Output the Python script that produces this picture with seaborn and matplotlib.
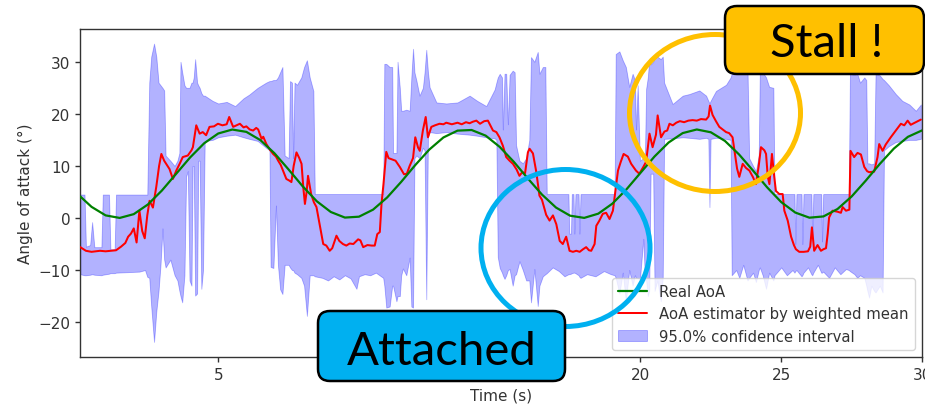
import matplotlib
matplotlib.use("Agg")
import matplotlib.pyplot as plt
import seaborn as sns
from matplotlib.patches import Ellipse, FancyBboxPatch

# ---------------- data ----------------
real_t = [0.1, 0.5, 1.0, 1.5, 2.0, 2.5, 3.0, 3.5, 4.0, 4.5, 5.0, 5.5, 6.0, 6.5, 7.0, 7.5,
          8.0, 8.5, 9.0, 9.5, 10.0, 10.5, 11.0, 11.5, 12.0, 12.5, 13.0, 13.5, 14.0, 14.5,
          15.0, 15.5, 16.0, 16.5, 17.0, 17.5, 18.0, 18.5, 19.0, 19.5, 20.0, 20.5, 21.0,
          21.5, 22.0, 22.5, 23.0, 23.5, 24.0, 24.5, 25.0, 25.5, 26.0, 26.5, 27.0, 27.5,
          28.0, 28.5, 29.0, 29.5, 30.0]
real_aoa = [4.13, 2.14, 0.50, 0.01, 0.74, 2.59, 5.28, 8.45, 11.62, 14.35, 16.23, 16.99,
            16.54, 14.95, 12.42, 9.31, 6.09, 3.22, 1.15, 0.08, 0.25, 1.60, 3.94, 6.94,
            10.17, 13.15, 15.47, 16.78, 16.90, 15.82, 13.65, 10.79, 7.58, 4.50, 2.00, 0.44,
            0.02, 0.83, 2.75, 5.49, 8.67, 11.82, 14.50, 16.31, 17.00, 16.46, 14.80, 12.21,
            9.09, 5.88, 3.05, 1.04, 0.06, 0.30, 1.73, 4.13, 7.16, 10.38, 13.33, 15.59, 16.82]

est_t = [0.10, 0.3, 0.5, 0.8, 1.0, 1.2, 1.37, 1.55, 1.7, 1.8, 1.9, 2.0, 2.1, 2.2, 2.3, 2.39,
         2.48, 2.56, 2.68, 2.8, 2.9, 2.98, 3.08, 3.15, 3.27, 3.39, 3.51, 3.63, 3.74, 3.92,
         4.05, 4.1, 4.22, 4.34, 4.45, 4.57, 4.69, 4.85, 4.99, 5.15, 5.3, 5.39, 5.53, 5.65,
         5.77, 5.9, 6.0, 6.12, 6.24, 6.35, 6.42, 6.54, 6.6, 6.71, 6.85, 6.95, 7.05, 7.13,
         7.22, 7.3, 7.42, 7.52, 7.6, 7.68, 7.78, 7.88, 7.96, 8.02, 8.08, 8.14, 8.19, 8.3,
         8.4, 8.49, 8.6, 8.73, 8.84, 8.96, 9.05, 9.2, 9.3, 9.43, 9.55, 9.67, 9.8, 9.97,
         10.05, 10.15, 10.3, 10.45, 10.56, 10.65, 10.74, 10.8, 10.87, 10.97, 11.05, 11.15,
         11.3, 11.45, 11.6, 11.7, 11.8, 11.92, 12.0, 12.1, 12.16, 12.27, 12.37, 12.45,
         12.57, 12.7, 12.86, 13.0, 13.1, 13.3, 13.5, 13.65, 13.8, 13.93, 14.05, 14.17,
         14.3, 14.45, 14.58, 14.76, 14.88, 14.99, 15.11, 15.23, 15.35, 15.47, 15.6, 15.7,
         15.8, 15.9, 16.0, 16.06, 16.18, 16.3, 16.41, 16.5, 16.65, 16.77, 16.89, 17.01,
         17.13, 17.24, 17.36, 17.48, 17.6, 17.72, 17.84, 17.96, 18.07, 18.17, 18.25, 18.37,
         18.43, 18.54, 18.66, 18.78, 18.9, 19.02, 19.08, 19.2, 19.3, 19.4, 19.55, 19.67,
         19.84, 19.96, 20.1, 20.2, 20.32, 20.43, 20.55, 20.61, 20.73, 20.85, 20.95, 21.03,
         21.15, 21.27, 21.4, 21.55, 21.7, 21.85, 22.0, 22.15, 22.33, 22.42, 22.47, 22.56,
         22.68, 22.8, 22.92, 23.04, 23.15, 23.27, 23.35, 23.43, 23.51, 23.63, 23.75, 23.87,
         24.0, 24.1, 24.2, 24.28, 24.4, 24.46, 24.52, 24.58, 24.67, 24.75, 24.81, 24.93,
         25.05, 25.11, 25.23, 25.35, 25.45, 25.52, 25.64, 25.8, 25.95, 26.03, 26.09, 26.17,
         26.29, 26.41, 26.5, 26.59, 26.65, 26.7, 26.82, 27.0, 27.12, 27.18, 27.3, 27.42,
         27.46, 27.59, 27.71, 27.83, 27.95, 28.05, 28.12, 28.3, 28.42, 28.48, 28.6, 28.71,
         28.89, 29.07, 29.25, 29.37, 29.49, 29.6, 29.78, 29.96]
est_aoa = [-5.6, -6.3, -6.5, -6.3, -6.4, -6.3, -6.2, -5.5, -4.8, -3.6, -3.0, -2.0, -4.7, 1.4,
           -2.5, -3.9, 0.5, 3.3, 2.0, 6.0, 10.0, 12.3, 11.0, 10.4, 9.4, 7.5, 9.1, 10.4, 11.7,
           12.0, 13.0, 13.6, 17.8, 16.2, 16.5, 15.9, 17.5, 17.6, 18.1, 17.8, 18.0, 19.4, 17.5,
           17.8, 18.1, 17.4, 17.6, 17.0, 16.8, 17.3, 17.0, 15.2, 15.6, 14.2, 13.0, 12.3, 11.8,
           11.0, 10.2, 9.1, 7.5, 7.2, 6.9, 10.0, 12.6, 11.5, 10.4, 6.0, 2.7, 5.0, 8.1, 4.6,
           3.0, 2.1, -1.2, -5.0, -5.3, -6.3, -5.8, -3.4, -4.4, -5.0, -5.3, -4.9, -5.0, -4.1,
           -4.3, -5.6, -5.2, -5.3, -5.3, -3.1, -2.7, 2.7, 6.5, 12.7, 11.5, 11.3, 11.0, 9.8,
           8.4, 8.5, 10.0, 11.5, 15.5, 13.5, 12.9, 16.8, 19.4, 15.5, 17.5, 17.8, 18.1, 18.0,
           18.3, 18.0, 18.3, 18.0, 18.4, 18.2, 18.5, 18.7, 18.1, 18.6, 18.7, 16.8, 16.5, 15.5,
           13.9, 11.7, 11.0, 10.4, 9.3, 8.1, 8.8, 8.6, 12.6, 13.3, 12.4, 8.8, 4.3, 3.5, 0.6,
           -0.5, 0.5, -1.2, -4.4, -5.0, -3.6, -6.3, -6.5, -6.3, -6.5, -6.0, -5.6, -6.2, -6.3,
           -5.0, -1.5, -0.5, 0.8, 1.0, -0.2, 1.4, 4.0, 9.1, 10.8, 12.3, 11.8, 10.4, 9.1, 8.5,
           9.8, 10.8, 16.2, 13.6, 16.0, 19.7, 15.5, 16.6, 16.8, 18.1, 17.8, 18.3, 18.6, 18.4,
           18.7, 18.8, 18.7, 19.0, 18.9, 19.5, 21.6, 19.8, 18.6, 17.5, 17.0, 16.5, 16.3, 15.5,
           12.5, 9.5, 7.9, 10.4, 9.6, 9.1, 7.8, 6.5, 10.0, 13.6, 13.0, 12.3, 8.0, 6.5, 12.3,
           8.0, 5.2, 4.6, 4.6, 1.4, -0.5, -3.6, -5.2, -6.0, -6.5, -6.5, -6.4, -5.5, -1.8, -6.3,
           -5.2, -6.3, -6.0, -5.8, -3.0, 0.1, 1.4, 1.2, 1.0, 2.1, 1.4, 1.6, 12.9, 11.7, 12.5,
           12.2, 9.8, 9.0, 8.8, 8.9, 11.7, 14.2, 12.9, 14.1, 15.5, 16.8, 18.1, 17.8, 18.7,
           17.9, 18.4, 18.9]

ci_t = [0.10, 0.25, 0.30, 0.45, 0.52, 0.60, 0.85, 0.90, 1.12, 1.17, 1.32, 1.37, 1.80, 2.20,
        2.40, 2.48, 2.55, 2.62, 2.72, 2.80, 2.88, 2.95, 3.02, 3.08, 3.13, 3.30, 3.45, 3.55,
        3.62, 3.66, 3.72, 3.80, 3.86, 3.92, 3.98, 4.05, 4.09, 4.13, 4.18, 4.25, 4.29, 4.34,
        4.40, 4.46, 4.52, 4.80, 5.00, 5.30, 5.60, 5.90, 6.10, 6.40, 6.70, 6.82, 6.86, 6.96,
        7.05, 7.12, 7.20, 7.28, 7.36, 7.50, 7.55, 7.62, 7.66, 7.71, 7.80, 7.95, 8.05, 8.15,
        8.25, 8.38, 8.43, 8.70, 8.90, 9.10, 9.30, 9.50, 9.70, 9.91, 10.00, 10.20, 10.40,
        10.60, 10.86, 10.90, 10.97, 11.09, 11.18, 11.21, 11.33, 11.37, 11.45, 11.50, 11.56,
        11.68, 11.80, 11.86, 11.92, 11.97, 12.04, 12.15, 12.27, 12.33, 12.39, 12.45, 12.51,
        12.75, 13.10, 13.50, 13.93, 14.20, 14.52, 14.82, 14.88, 14.93, 15.00, 15.08, 15.11,
        15.17, 15.23, 15.29, 15.35, 15.46, 15.53, 15.58, 15.70, 15.82, 15.94, 16.05, 16.11,
        16.23, 16.35, 16.41, 16.53, 16.62, 16.67, 16.88, 17.10, 17.30, 17.44, 17.47, 17.53,
        17.56, 17.62, 17.65, 17.69, 17.80, 17.83, 17.87, 18.10, 18.40, 18.70, 18.95, 19.08,
        19.12, 19.25, 19.37, 19.48, 19.60, 19.72, 19.80, 19.84, 19.90, 19.98, 20.10, 20.16,
        20.20, 20.26, 20.31, 20.36, 20.45, 20.50, 20.60, 20.72, 20.79, 20.84, 21.14, 21.50,
        21.73, 22.09, 22.33, 22.41, 22.45, 22.49, 22.68, 23.04, 23.20, 23.24, 23.40, 23.51,
        23.65, 23.80, 23.86, 24.00, 24.10, 24.20, 24.24, 24.34, 24.46, 24.57, 24.72, 24.76,
        25.00, 25.20, 25.40, 25.47, 25.50, 25.54, 25.72, 25.75, 25.79, 25.95, 26.07, 26.10,
        26.14, 26.30, 26.42, 26.45, 26.49, 26.70, 26.90, 27.10, 27.30, 27.40, 27.44, 27.60,
        27.70, 27.80, 27.95, 28.02, 28.06, 28.12, 28.20, 28.30, 28.35, 28.50, 28.60, 28.65,
        28.82, 29.07, 29.30, 29.55, 29.78, 29.96]
ci_low = [-10.8, -11.0, -11.0, -10.9, -10.8, -10.9, -11.0, -10.9, -10.7, -10.6, -10.6, -10.5,
          -10.4, -10.3, -10.0, -11.3, -11.5, -17.0, -23.8, -18.0, -14.0, -9.0, -2.0, -8.0,
          -9.5, -8.0, -11.0, -12.0, -14.0, -15.0, -16.2, -11.0, 8.0, 9.0, -12.0, -13.0, 10.0,
          10.0, -14.9, -14.5, 11.0, 11.0, -13.6, -10.0, 14.8, 15.0, 15.5, 15.8, 16.0, 15.5,
          15.2, 14.8, 13.5, 13.0, -9.4, -9.6, 2.4, -9.0, -13.7, -14.6, -9.0, -9.0, -9.5,
          -10.0, -10.0, -10.5, -10.8, -11.5, -13.0, -18.8, -11.0, -11.0, -11.2, -11.5, -12.0,
          -11.2, -11.8, -11.0, -11.6, -13.6, -11.2, -10.8, -11.0, -10.5, -11.5, -13.0, -17.2,
          -17.0, -13.0, -13.0, -16.0, -15.0, -15.0, -11.0, -9.7, -11.0, -7.6, -17.0, -17.2,
          11.5, 12.0, 11.5, 13.5, 13.0, -15.6, 15.5, 16.5, 16.3, 16.5, 16.2, 16.0, 15.8, 15.5,
          15.3, 15.0, -7.5, -9.6, -10.5, -11.0, -11.7, -11.0, -10.0, -9.8, -13.0, -11.0,
          -10.8, -8.3, -10.0, -12.0, -12.0, -16.2, -9.8, -16.9, -13.0, -11.2, -10.8, -10.6,
          -9.5, -10.2, -11.2, -10.8, -10.8, -10.7, -10.6, -10.5, -10.5, -10.6, -11.0, -11.3,
          -11.5, -10.8, -11.2, -10.2, -10.8, -11.0, -11.5, -14.5, -10.5, -16.0, -10.0, -13.0,
          -11.0, -11.5, -11.5, -11.8, -4.0, -12.0, -12.0, -15.0, -14.0, 8.5, 8.5, -14.0,
          -12.0, -16.0, -11.5, 15.2, 15.3, 15.5, 15.4, 15.2, 15.4, 15.2, 2.1, 15.2, 15.4, 15.2,
          15.0, -11.0, -10.0, -11.5, -9.0, -12.0, -11.5, -10.5, -12.3, -10.0, -9.5, -11.0,
          -13.6, -10.5, -12.0, -11.0, -9.5, -11.0, -10.0, -10.5, -10.2, -10.0, -11.2, -11.0,
          -10.5, -9.5, -10.8, -11.0, -10.5, -9.0, -10.5, -10.5, -10.3, -11.5, -9.5, -10.8,
          -9.8, -10.0, -10.2, -10.8, -11.5, -11.0, -11.5, -13.0, -14.0, -15.3, -13.0, -14.0,
          -14.3, -13.0, -14.3, 13.0, 13.8, 14.6, 14.8, 15.0, 15.0, 15.2]
ci_high = [4.5, 4.5, -5.5, -5.2, -0.8, -5.6, -5.6, 4.5, 4.5, -6.0, -6.0, 4.5, 4.5, 4.5, 4.5,
           4.5, 26.0, 31.0, 33.5, 31.0, 26.0, 25.5, 25.0, 24.5, 12.0, 11.0, 10.0, 11.0, 12.5,
           30.0, 28.0, 25.5, 25.0, 25.0, 25.0, 26.0, 26.0, 27.0, 30.5, 26.0, 25.5, 25.0, 24.0,
           23.5, 23.5, 22.5, 22.0, 22.3, 21.5, 23.0, 23.7, 25.0, 26.0, 26.3, 26.3, 26.5, 26.5,
           27.0, 28.0, 29.0, 12.0, 11.5, 26.3, 26.0, 11.5, 26.0, 25.6, 27.0, 29.0, 30.3, 27.0,
           24.4, 4.6, 4.6, 4.6, 4.6, 4.6, 4.6, 4.6, 4.6, 4.6, 4.6, 4.6, 4.6, 4.6, 29.6, 29.6,
           29.0, 29.0, 12.5, 12.5, 30.0, 25.0, 20.6, 20.6, 20.8, 20.6, 27.0, 32.5, 28.0, 26.4,
           23.5, 25.0, 28.0, 32.3, 28.0, 25.1, 22.2, 22.0, 22.2, 23.5, 22.5, 21.5, 24.7, 26.0,
           27.0, 27.7, 27.0, 17.0, 27.7, 27.7, 18.0, 27.5, 28.3, 28.0, 14.0, 11.0, 10.5, 11.5,
           15.0, 30.9, 30.0, 31.9, 27.7, 29.0, 29.0, 4.6, 4.6, 4.6, 4.6, 4.6, -3.0, -3.0, 4.6,
           4.6, -3.0, 4.6, 4.6, -3.0, 4.6, 4.6, 4.6, 4.6, 4.6, 4.6, 31.5, 32.0, 30.3, 29.0,
           25.2, 27.7, 26.5, 17.0, 25.5, 11.0, 11.5, 12.5, 24.8, 27.0, 30.3, 29.5, 30.0, 31.0,
           31.0, 30.5, 31.0, 26.0, 21.9, 23.5, 23.8, 24.5, 23.5, 22.5, 22.0, 22.5, 24.4, 25.6,
           27.0, 27.7, 28.5, 29.6, 29.3, 29.0, 11.5, 10.0, 9.0, 12.0, 28.5, 28.0, 27.0, 25.2,
           25.0, 4.6, 4.6, 4.6, 4.6, 4.6, -5.0, 4.6, 4.6, -5.0, 4.6, 4.6, 4.6, -4.0, 4.6, 4.6,
           4.6, -4.5, 4.6, 4.6, 4.6, 4.6, 4.6, 4.6, 27.7, 27.5, 27.7, 26.0, 27.0, 26.5, 10.5,
           10.5, 10.3, 10.5, 27.7, 27.4, 26.7, 26.5, 25.5, 23.8, 22.5, 21.8, 20.6, 21.8]

legend_labels = ["Real AoA", "AoA estimator by weighted mean", "95.0% confidence interval"]
x_ticks = [5, 10, 15, 20, 25, 30]
y_ticks = [-20, -10, 0, 10, 20, 30]
x_label = "Time (s)"
y_label = "Angle of attack (°)"
note_stall = "Stall !"
note_attached = "Attached"

# ---------------- style ----------------
sns.set_theme(style="ticks")
plt.rcParams["font.family"] = ["DejaVu Sans"]
plt.rcParams["axes.edgecolor"] = "#333333"
plt.rcParams["axes.linewidth"] = 1.0
plt.rcParams["xtick.color"] = "#333333"
plt.rcParams["ytick.color"] = "#333333"

W, H = 925, 410
fig = plt.figure(figsize=(W / 100, H / 100), dpi=100)
ax = fig.add_axes([80 / W, 1 - 358 / H, (922 - 80) / W, (358 - 30) / H])

ax.fill_between(ci_t, ci_low, ci_high, color="blue", alpha=0.3, linewidth=0.6,
                label=legend_labels[2], zorder=1)
sns.lineplot(x=est_t, y=est_aoa, ax=ax, color="red", linewidth=1.45,
             label=legend_labels[1], zorder=3)
sns.lineplot(x=real_t, y=real_aoa, ax=ax, color="green", linewidth=1.6,
             label=legend_labels[0], zorder=4)

ax.set_xlim(0.09, 29.97)
ax.set_ylim(-26.7, 36.3)
ax.set_xticks(x_ticks)
ax.set_yticks(y_ticks)
ax.tick_params(labelsize=11, length=3.5, width=1.0, direction="out")
ax.set_xlabel(x_label, fontsize=11, color="#333333")
ax.set_ylabel(y_label, fontsize=11, color="#333333")
for s in ax.spines.values():
    s.set_visible(True)

handles, labels = ax.get_legend_handles_labels()
order = [labels.index(l) for l in legend_labels]
leg = ax.legend([handles[i] for i in order], [labels[i] for i in order],
                loc="lower right", fontsize=10.7, frameon=True, framealpha=0.8,
                edgecolor="#cccccc", fancybox=True)
for t in leg.get_texts():
    t.set_color("#333333")

# ---------------- annotations (figure pixel coordinates) ----------------
tr = fig.dpi_scale_trans


def P(x, y):
    return (x / 100, (H - y) / 100)


fig.add_artist(Ellipse(P(715, 114), 1.71, 1.57, transform=tr, fill=False,
                       edgecolor="#FFC000", linewidth=3.6, zorder=10))
fig.add_artist(Ellipse(P(565.5, 249), 1.69, 1.57, transform=tr, fill=False,
                       edgecolor="#00B0F0", linewidth=3.6, zorder=10))

fig.add_artist(FancyBboxPatch(P(725, 75), 1.99, 0.68, transform=tr,
                              boxstyle="round,pad=0,rounding_size=0.12",
                              facecolor="#FFC000", edgecolor="black", linewidth=1.8,
                              zorder=11))
fig.add_artist(FancyBboxPatch(P(318, 382), 2.47, 0.70, transform=tr,
                              boxstyle="round,pad=0,rounding_size=0.12",
                              facecolor="#00B0F0", edgecolor="black", linewidth=1.8,
                              zorder=11))
fig.text(*P(826.5, 57), note_stall, transform=tr, ha="center", va="baseline",
         fontsize=34, family="Lato", color="black", zorder=12)
fig.text(*P(441.5, 365), note_attached, transform=tr, ha="center", va="baseline",
         fontsize=34, family="Lato", color="black", zorder=12)

fig.savefig("out.png", dpi=100)
